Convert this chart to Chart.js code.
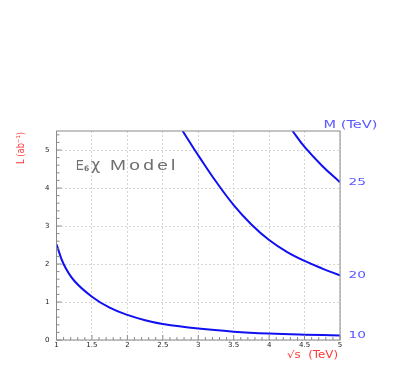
<!DOCTYPE html>
<html>
<head>
<meta charset="utf-8">
<script src="https://cdn.jsdelivr.net/npm/chart.js@4"></script>
<style>
  html, body { margin: 0; padding: 0; background: #fff; }
  #wrap { width: 408px; height: 371px; }
</style>
</head>
<body>
<div id="wrap"><canvas id="myChart"></canvas></div>
<script>
// valores de los ejes
const xTickValues = [1, 1.5, 2, 2.5, 3, 3.5, 4, 4.5, 5];
const yTickValues = [0, 1, 2, 3, 4, 5];
const massLabels = ['10', '20', '25'];

// curvas L(sqrt s) para cada masa M
const sqrtS_M10 = [1.0, 1.1, 1.25, 1.5, 1.75, 2.0, 2.25, 2.5, 3.0, 3.5, 4.0, 4.5, 5.0];
const lumi_M10  = [2.52, 2.0, 1.56, 1.14, 0.85, 0.66, 0.52, 0.42, 0.30, 0.22, 0.17, 0.14, 0.12];

const sqrtS_M20 = [2.78, 2.95, 3.0, 3.25, 3.5, 3.75, 4.0, 4.25, 4.5, 4.75, 5.0];
const lumi_M20  = [5.5, 5.0, 4.86, 4.17, 3.55, 3.04, 2.63, 2.32, 2.08, 1.88, 1.70];

const sqrtS_M25 = [4.33, 4.5, 4.75, 5.0];
const lumi_M25  = [5.5, 5.08, 4.58, 4.15];

const blue = '#1010f0';
const labelBlue = '#5a5aff';
const red = '#ff3838';
const grey = '#707070';

function toPoints(xs, ys) {
    return xs.map((x, i) => ({ x: x, y: ys[i] }));
}

// texto ajustado a un ancho dado (estirado como en ROOT)
function fitText(ctx, text, x, y, font, color, width) {
    ctx.save();
    ctx.font = font;
    ctx.fillStyle = color;
    ctx.textBaseline = 'middle';
    ctx.textAlign = 'left';
    const w = ctx.measureText(text).width;
    ctx.translate(x, y);
    ctx.scale(width / w, 1);
    ctx.fillText(text, 0, 0);
    ctx.restore();
}

const frame = {
    id: 'frame',
    afterDraw(chart) {
        const ctx = chart.ctx;
        const a = chart.chartArea;
        const xs = chart.scales.x;
        const ys = chart.scales.y;
        const y2 = chart.scales.y2;

        ctx.save();
        ctx.strokeStyle = '#8a8a8a';
        ctx.lineWidth = 1;
        ctx.strokeRect(a.left, a.top, a.right - a.left, a.bottom - a.top);

        // marcas menores
        ctx.beginPath();
        for (let i = 0; i <= 40; i++) {
            const v = 1 + i * 0.1;
            const px = xs.getPixelForValue(v);
            const len = (i % 5 === 0) ? 5 : 3;
            ctx.moveTo(px, a.bottom);
            ctx.lineTo(px, a.bottom - len);
        }
        for (let i = 0; i <= 27; i++) {
            const v = i * 0.2;
            const py = ys.getPixelForValue(v);
            const len = (i % 5 === 0) ? 5 : 3;
            ctx.moveTo(a.left, py);
            ctx.lineTo(a.left + len, py);
        }
        ctx.stroke();
        ctx.restore();

        // etiquetas de masa a la derecha
        const ends = [lumi_M10[lumi_M10.length - 1], lumi_M20[lumi_M20.length - 1], lumi_M25[lumi_M25.length - 1]];
        ends.forEach((v, i) => {
            fitText(ctx, massLabels[i], a.right + 8.5, y2.getPixelForValue(v) + 0.5,
                '9.5px "DejaVu Sans"', labelBlue, 17.5);
        });

        fitText(ctx, 'M (TeV)', 323.5, 125, '10px "DejaVu Sans"', labelBlue, 54);
        fitText(ctx, '\u221As  (TeV)', 287, 355.5, '10px "DejaVu Sans"', red, 51);

        // titulo eje y
        ctx.save();
        ctx.translate(21.5, 164);
        ctx.rotate(-Math.PI / 2);
        fitText(ctx, 'L (ab\u207B\u00B9)', 0, 0, '10.5px "DejaVu Sans"', red, 32);
        ctx.restore();

        // E6 chi Model
        ctx.save();
        ctx.fillStyle = grey;
        ctx.textBaseline = 'alphabetic';
        ctx.font = '14.5px "Liberation Sans"';
        ctx.save();
        ctx.translate(76, 170);
        ctx.scale(0.8, 1);
        ctx.fillText('E', 0, 0);
        ctx.restore();
        ctx.font = 'bold 7.5px "DejaVu Sans"';
        ctx.fillText('6', 84, 170.5);
        ctx.font = '16px "DejaVu Sans"';
        ctx.fillText('\u03C7', 91, 170);
        ctx.font = '14.5px "Liberation Sans"';
        ctx.letterSpacing = '2.5px';
        ctx.translate(110, 170);
        ctx.scale(1.32, 1);
        ctx.fillText('Model', 0, 0);
        ctx.restore();
    }
};

const ctx = document.getElementById('myChart').getContext('2d');

const lineStyle = {
    borderColor: blue,
    borderWidth: 2,
    pointRadius: 0,
    fill: false,
    tension: 0.4,
    yAxisID: 'y'
};

const myChart = new Chart(ctx, {
    type: 'line',
    data: {
        datasets: [
            Object.assign({ label: 'M = 10 TeV', data: toPoints(sqrtS_M10, lumi_M10) }, lineStyle),
            Object.assign({ label: 'M = 20 TeV', data: toPoints(sqrtS_M20, lumi_M20) }, lineStyle),
            Object.assign({ label: 'M = 25 TeV', data: toPoints(sqrtS_M25, lumi_M25) }, lineStyle)
        ]
    },
    options: {
        responsive: true,
        maintainAspectRatio: false,
        animation: false,
        devicePixelRatio: 1,
        layout: { padding: { top: 131, left: 0, right: 0, bottom: 0 } },
        plugins: {
            legend: { display: false },
            tooltip: { enabled: false }
        },
        scales: {
            x: {
                type: 'linear',
                min: 1,
                max: 5,
                afterBuildTicks: (scale) => { scale.ticks = xTickValues.map(v => ({ value: v })); },
                afterFit: (scale) => { scale.height = 31; },
                ticks: {
                    callback: (v) => String(v),
                    font: { family: 'DejaVu Sans', size: 7 },
                    color: '#222',
                    padding: 1,
                    maxRotation: 0,
                    autoSkip: false
                },
                grid: { color: '#d6d6d6', drawTicks: false },
                border: { display: false, dash: [2, 2] }
            },
            y: {
                type: 'linear',
                position: 'left',
                min: 0,
                max: 5.5,
                afterBuildTicks: (scale) => { scale.ticks = yTickValues.map(v => ({ value: v })); },
                afterFit: (scale) => { scale.width = 56.5; },
                ticks: {
                    callback: (v) => String(v),
                    font: { family: 'DejaVu Sans', size: 7 },
                    color: '#222',
                    padding: 7
                },
                grid: { color: '#d6d6d6', drawTicks: false },
                border: { display: false, dash: [2, 2] }
            },
            y2: {
                type: 'linear',
                position: 'right',
                display: true,
                min: 0,
                max: 5.5,
                afterFit: (scale) => { scale.width = 68; },
                ticks: { display: false },
                grid: { display: false, drawTicks: false },
                border: { display: false }
            }
        }
    },
    plugins: [frame]
});
</script>
</body>
</html>
